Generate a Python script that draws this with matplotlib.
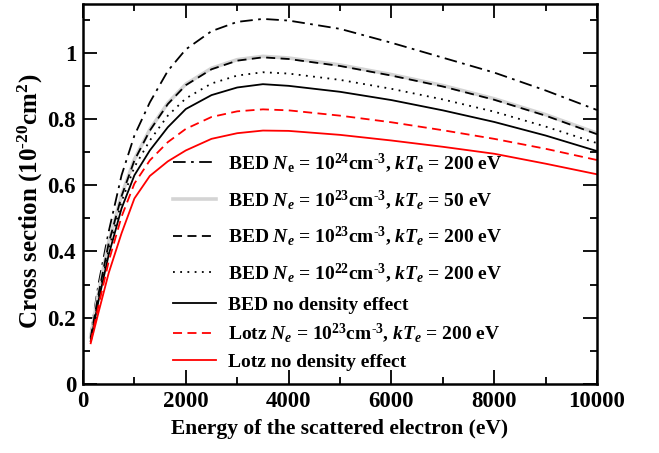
import matplotlib
matplotlib.use("Agg")
import matplotlib.pyplot as plt
from matplotlib.ticker import MultipleLocator

plt.rcParams['font.family'] = ['Liberation Serif', 'DejaVu Serif']
plt.rcParams['font.weight'] = 'bold'
plt.rcParams['mathtext.fontset'] = 'custom'
plt.rcParams['mathtext.rm'] = 'Liberation Serif:bold'
plt.rcParams['mathtext.bf'] = 'Liberation Serif:bold'
plt.rcParams['mathtext.it'] = 'Liberation Serif:bold:italic'

energy = [150, 300, 500, 750, 1000, 1300, 1650, 2000, 2500, 3000, 3500,
          4000, 5000, 6000, 7000, 8000, 9000, 10000]

bed_24_200 = [0.150, 0.300, 0.460, 0.630, 0.750, 0.850, 0.945, 1.010, 1.065,
              1.093, 1.102, 1.097, 1.072, 1.030, 0.985, 0.940, 0.886, 0.827]
bed_23_50 = [0.142, 0.272, 0.428, 0.570, 0.678, 0.768, 0.848, 0.905, 0.953,
             0.979, 0.989, 0.984, 0.963, 0.934, 0.901, 0.861, 0.813, 0.757]
bed_23_200 = [0.140, 0.270, 0.425, 0.567, 0.675, 0.765, 0.845, 0.902, 0.950,
              0.976, 0.986, 0.981, 0.960, 0.931, 0.898, 0.858, 0.810, 0.754]
bed_22_200 = [0.135, 0.260, 0.405, 0.550, 0.655, 0.735, 0.810, 0.862, 0.907,
              0.931, 0.941, 0.937, 0.918, 0.891, 0.859, 0.822, 0.777, 0.727]
bed_none = [0.130, 0.250, 0.390, 0.530, 0.630, 0.705, 0.775, 0.830, 0.872,
            0.895, 0.905, 0.900, 0.882, 0.857, 0.826, 0.791, 0.750, 0.703]
lotz_23_200 = [0.127, 0.235, 0.370, 0.505, 0.605, 0.675, 0.730, 0.770, 0.806,
               0.823, 0.829, 0.826, 0.810, 0.790, 0.766, 0.740, 0.710, 0.676]
lotz_none = [0.123, 0.215, 0.335, 0.455, 0.560, 0.628, 0.672, 0.705, 0.740,
             0.757, 0.765, 0.764, 0.752, 0.735, 0.716, 0.695, 0.665, 0.633]

labels = [
    r"BED $N_\mathrm{e}$ = 10$^{24}$cm$^{\text{-3}}$, $kT_\mathrm{e}$ = 200 eV",
    r"BED $N_e$ = 10$^{23}$cm$^{\text{-3}}$, $kT_e$ = 50 eV",
    r"BED $N_e$ = 10$^{23}$cm$^{\text{-3}}$, $kT_e$ = 200 eV",
    r"BED $N_e$ = 10$^{22}$cm$^{\text{-3}}$, $kT_e$ = 200 eV",
    "BED no density effect",
    r"Lotz $N_e$ = 10$^{23}$cm$^{\text{-3}}$, $kT_e$ = 200 eV",
    "Lotz no density effect",
]

fig = plt.figure(figsize=(6.59, 4.53), dpi=100)
ax = fig.add_axes([83/659, 1 - 384/453, (597-83)/659, (384-4)/453])

lw = 1.3
h = []
h += ax.plot(energy, bed_24_200, color='black', lw=lw, dashes=(7, 3, 1.5, 3), label=labels[0])
h += ax.plot(energy, bed_23_50, color='#d4d4d4', lw=2.6, label=labels[1])
h += ax.plot(energy, bed_23_200, color='black', lw=lw, dashes=(5, 3), label=labels[2])
h += ax.plot(energy, bed_22_200, color='black', lw=lw, dashes=(1, 3), label=labels[3])
h += ax.plot(energy, bed_none, color='black', lw=lw, label=labels[4])
h += ax.plot(energy, lotz_23_200, color='red', lw=lw, dashes=(5, 3), label=labels[5])
h += ax.plot(energy, lotz_none, color='red', lw=lw, label=labels[6])

ax.set_xlim(0, 10000)
ax.set_ylim(0, 1.147)
ax.xaxis.set_minor_locator(MultipleLocator(1000))
ax.yaxis.set_minor_locator(MultipleLocator(0.1))
ax.set_yticks([0, 0.2, 0.4, 0.6, 0.8, 1.0])
ax.set_yticklabels(['0', '0.2', '0.4', '0.6', '0.8', '1'])
ax.set_xticks([0, 2000, 4000, 6000, 8000, 10000])
ax.tick_params(which='both', direction='in', top=True, right=True, labelsize=16.5, width=1.3)
ax.tick_params(which='major', length=10, pad=5)
ax.tick_params(which='minor', length=5)
for s in ax.spines.values():
    s.set_linewidth(1.8)

ax.set_xlabel("Energy of the scattered electron (eV)", fontsize=15.5, fontweight='bold', labelpad=5)
ax.set_ylabel(r"Cross section (10$^{\text{-20}}$cm$^{2}$)", fontsize=18, fontweight='bold')
ax.yaxis.set_label_coords(-0.074, 0.48)

common = dict(frameon=False, fontsize=14, handlelength=2.2, handletextpad=0.65,
              borderaxespad=0)
legA = ax.legend(h[:4], labels[:4], loc='upper left', bbox_to_anchor=(0.16, 0.633),
                 labelspacing=0.66, **common)
ax.add_artist(legA)
legB = ax.legend(h[4:], labels[4:], loc='upper left', bbox_to_anchor=(0.16, 0.2515),
                 labelspacing=0.4, **common)

fig.savefig("out.png", dpi=100)
